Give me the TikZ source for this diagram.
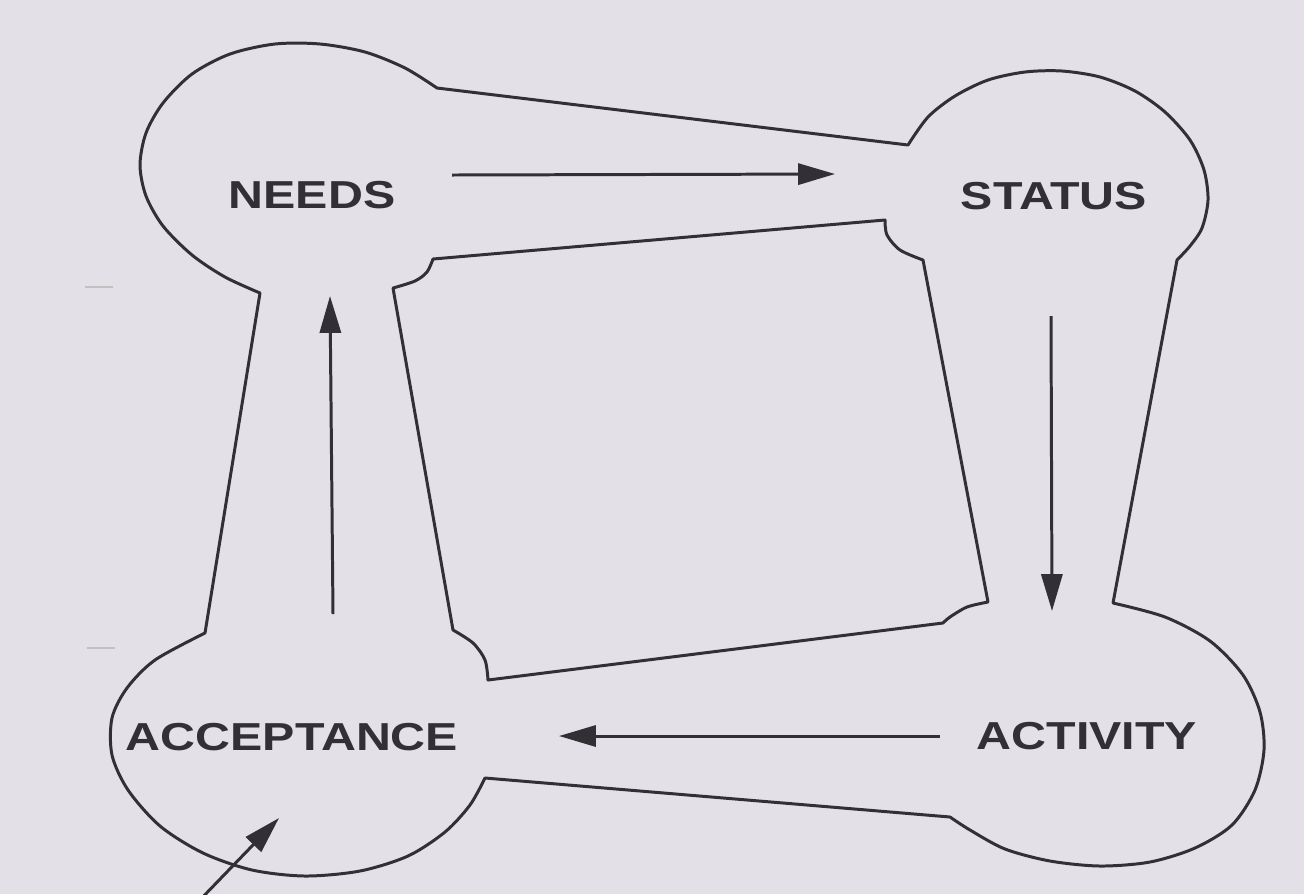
\documentclass[tikz,border=0pt]{standalone}
\usepackage{fontspec}
\newfontfamily\wordfont[FakeStretch=1.24]{Liberation Sans}
\usetikzlibrary{arrows.meta}
\definecolor{paper}{RGB}{227,225,231}
\definecolor{ink}{RGB}{50,48,52}

\begin{document}
\begin{tikzpicture}[x=0.02cm,y=-0.02cm,
    outline/.style={ink, line width=1.7pt, line join=round},
    flow/.style={ink, line width=1.7pt, -{Triangle[length=21pt,width=12pt]}},
    word/.style={text=ink, inner sep=0pt, font=\wordfont\bfseries\fontsize{22.2}{26}\selectfont}]
  \fill[paper] (0,0) rectangle (1304,894);
  \useasboundingbox (0,0) rectangle (1304,894);
  \clip (0,0) rectangle (1304,894);
  \draw[outline] (437,88) -- (908,145)
    -- plot[smooth] coordinates {(908,145) (928,117) (955,96) (988,80) (1025,72) (1062,71) (1100,77) (1135,91) (1165,112) (1190,140) (1204,170) (1208,200) (1202,228) (1190,246) (1177,260)}
    -- (1113,603)
    -- plot[smooth] coordinates {(1113,603) (1165,617) (1210,641) (1243,675) (1260,712) (1264,750) (1255,790) (1232,825) (1195,848) (1150,862) (1100,866) (1050,861) (1005,849) (970,830) (950,817)}
    -- (485,778)
    -- plot[smooth] coordinates {(485,778) (470,805) (445,832) (408,856) (360,871) (305,876) (252,870) (203,853) (160,826) (128,790) (112,755) (112,718) (127,688) (155,660) (205,633)}
    -- (260,293)
    -- plot[smooth] coordinates {(260,293) (225,277) (192,255) (163,226) (146,196) (140,165) (146,133) (163,103) (192,74) (230,54) (275,44) (320,44) (365,52) (405,68) (437,88)}
    -- cycle;
  \draw[outline] (433,259) -- (885,220)
    -- plot[smooth] coordinates {(885,220) (887,235) (900,250) (923,260)}
    -- (988,602)
    -- plot[smooth] coordinates {(988,602) (967,607) (950,617) (943,623)}
    -- (488,680)
    -- plot[smooth] coordinates {(488,680) (485,660) (473,643) (453,630)}
    -- (393,288)
    -- plot[smooth] coordinates {(393,288) (415,281) (427,272) (433,259)}
    -- cycle;
  \draw[ink!30, line width=1.4pt] (85,287) -- (113,287);
  \draw[ink!30, line width=1.4pt] (87,648) -- (115,648);

  \node[word] (needs) at (312,195) {NEEDS};
  \node[word] (status) at (1054,196) {STATUS};
  \node[word] (acceptance) at (292,737) {ACCEPTANCE};
  \node[word] (activity) at (1087,736) {ACTIVITY};

  \coordinate (needs out) at (452,175);
  \coordinate (status in) at (835,174);
  \coordinate (status out) at (1051,316);
  \coordinate (activity in) at (1052,611);
  \coordinate (activity out) at (940,736);
  \coordinate (acceptance in) at (559,736);
  \coordinate (acceptance out) at (333,614);
  \coordinate (needs in) at (330,296);
  \coordinate (entry) at (196,904);
  \coordinate (entry tip) at (279,818);
  \draw[flow] (needs out) -- (status in);
  \draw[flow] (status out) -- (activity in);
  \draw[flow] (activity out) -- (acceptance in);
  \draw[flow] (acceptance out) -- (needs in);
  \draw[flow] (entry) -- (entry tip);
\end{tikzpicture}
\end{document}
